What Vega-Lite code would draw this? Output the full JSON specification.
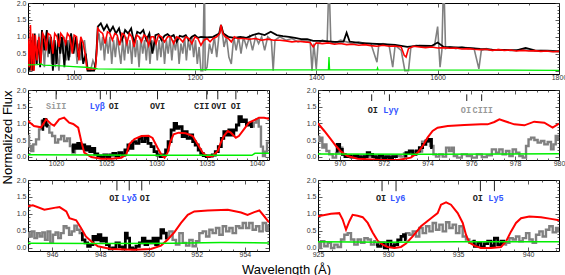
{
"$schema": "https://vega.github.io/schema/vega-lite/v6.json",
"background": "white",
"padding": {"left": 1, "top": -2, "right": 0, "bottom": 0},
"title": {"text": "Normalized Flux", "orient": "left", "anchor": "middle", "font": "Liberation Sans", "fontSize": 13, "fontWeight": "normal", "color": "#000", "offset": 1},
"config": {
 "view": {"stroke": "#000", "strokeWidth": 1},
 "axis": {"domain": false, "grid": false, "labelFont": "Liberation Sans", "labelFontSize": 7, "labelColor": "#333", "tickColor": "#333", "tickWidth": 0.8, "labelFlush": false, "labelOverlap": false},
 "axisX": {"labelPadding": 3},
 "axisY": {"labelPadding": 6}
},
"datasets": {
 "top": [
{"x":925,"y":0.9,"s":"g"},{"x":928,"y":0.1,"s":"g"},{"x":931,"y":1.0,"s":"g"},{"x":934,"y":0.0,"s":"g"},{"x":937,"y":0.8,"s":"g"},{"x":940,"y":0.2,"s":"g"},{"x":943,"y":1.1,"s":"g"},{"x":946,"y":0.3,"s":"g"},{"x":949,"y":0.9,"s":"g"},{"x":952,"y":0.1,"s":"g"},{"x":955,"y":1.0,"s":"g"},{"x":958,"y":0.4,"s":"g"},{"x":961,"y":1.0,"s":"g"},{"x":964,"y":0.2,"s":"g"},{"x":967,"y":0.9,"s":"g"},{"x":970,"y":0.1,"s":"g"},{"x":973,"y":0.6,"s":"g"},{"x":976,"y":0.0,"s":"g"},{"x":979,"y":0.9,"s":"g"},{"x":982,"y":0.5,"s":"g"},{"x":985,"y":1.0,"s":"g"},{"x":988,"y":0.3,"s":"g"},{"x":991,"y":0.9,"s":"g"},{"x":994,"y":0.4,"s":"g"},{"x":997,"y":1.0,"s":"g"},{"x":1000,"y":0.6,"s":"g"},{"x":1003,"y":0.9,"s":"g"},{"x":1006,"y":0.2,"s":"g"},{"x":1009,"y":0.8,"s":"g"},{"x":1012,"y":0.3,"s":"g"},{"x":1015,"y":0.7,"s":"g"},{"x":1018,"y":0.9,"s":"g"},{"x":1021,"y":0.4,"s":"g"},{"x":1024,"y":0.0,"s":"g"},{"x":1028,"y":0.0,"s":"g"},{"x":1032,"y":0.3,"s":"g"},{"x":1036,"y":0.1,"s":"g"},{"x":1039,"y":0.8,"s":"g"},{"x":1042,"y":1.1,"s":"g"},{"x":1045,"y":0.6,"s":"g"},{"x":1048,"y":1.0,"s":"g"},{"x":1051,"y":0.3,"s":"g"},{"x":1054,"y":1.0,"s":"g"},{"x":1057,"y":0.5,"s":"g"},{"x":1060,"y":1.0,"s":"g"},{"x":1063,"y":0.2,"s":"g"},{"x":1066,"y":0.9,"s":"g"},{"x":1069,"y":0.4,"s":"g"},{"x":1072,"y":1.0,"s":"g"},{"x":1075,"y":0.6,"s":"g"},{"x":1078,"y":0.2,"s":"g"},{"x":1081,"y":0.9,"s":"g"},{"x":1084,"y":0.3,"s":"g"},{"x":1087,"y":1.0,"s":"g"},{"x":1090,"y":0.5,"s":"g"},{"x":1093,"y":0.9,"s":"g"},{"x":1096,"y":0.2,"s":"g"},{"x":1099,"y":1.0,"s":"g"},{"x":1102,"y":0.4,"s":"g"},{"x":1105,"y":0.9,"s":"g"},{"x":1108,"y":0.1,"s":"g"},{"x":1111,"y":1.0,"s":"g"},{"x":1114,"y":0.5,"s":"g"},{"x":1117,"y":0.9,"s":"g"},{"x":1120,"y":0.3,"s":"g"},{"x":1123,"y":1.0,"s":"g"},{"x":1126,"y":0.2,"s":"g"},{"x":1129,"y":0.9,"s":"g"},{"x":1132,"y":0.6,"s":"g"},{"x":1135,"y":1.0,"s":"g"},{"x":1138,"y":0.3,"s":"g"},{"x":1141,"y":0.9,"s":"g"},{"x":1144,"y":0.4,"s":"g"},{"x":1147,"y":1.0,"s":"g"},{"x":1150,"y":0.2,"s":"g"},{"x":1153,"y":0.9,"s":"g"},{"x":1156,"y":0.5,"s":"g"},{"x":1159,"y":1.0,"s":"g"},{"x":1162,"y":0.3,"s":"g"},{"x":1165,"y":0.9,"s":"g"},{"x":1168,"y":0.6,"s":"g"},{"x":1171,"y":1.0,"s":"g"},{"x":1174,"y":0.2,"s":"g"},{"x":1177,"y":0.8,"s":"g"},{"x":1180,"y":0.5,"s":"g"},{"x":1183,"y":1.0,"s":"g"},{"x":1186,"y":0.3,"s":"g"},{"x":1189,"y":0.9,"s":"g"},{"x":1192,"y":0.6,"s":"g"},{"x":1195,"y":1.0,"s":"g"},{"x":1198,"y":0.4,"s":"g"},{"x":1201,"y":0.9,"s":"g"},{"x":1204,"y":0.2,"s":"g"},{"x":1207,"y":0.7,"s":"g"},{"x":1210,"y":0.0,"s":"g"},{"x":1213,"y":0.0,"s":"g"},{"x":1215,"y":2.1,"s":"g"},{"x":1216,"y":2.1,"s":"g"},{"x":1217,"y":0.0,"s":"g"},{"x":1220,"y":0.1,"s":"g"},{"x":1224,"y":0.8,"s":"g"},{"x":1228,"y":0.5,"s":"g"},{"x":1232,"y":1.0,"s":"g"},{"x":1236,"y":0.4,"s":"g"},{"x":1240,"y":1.1,"s":"g"},{"x":1244,"y":1.3,"s":"g"},{"x":1248,"y":0.7,"s":"g"},{"x":1252,"y":1.0,"s":"g"},{"x":1256,"y":0.4,"s":"g"},{"x":1260,"y":0.2,"s":"g"},{"x":1264,"y":1.0,"s":"g"},{"x":1268,"y":0.6,"s":"g"},{"x":1272,"y":1.0,"s":"g"},{"x":1276,"y":0.5,"s":"g"},{"x":1280,"y":1.0,"s":"g"},{"x":1285,"y":0.7,"s":"g"},{"x":1290,"y":1.0,"s":"g"},{"x":1295,"y":0.6,"s":"g"},{"x":1300,"y":1.0,"s":"g"},{"x":1305,"y":0.8,"s":"g"},{"x":1310,"y":1.0,"s":"g"},{"x":1315,"y":0.6,"s":"g"},{"x":1320,"y":1.0,"s":"g"},{"x":1326,"y":0.9,"s":"g"},{"x":1329,"y":0.0,"s":"g"},{"x":1332,"y":0.9,"s":"g"},{"x":1340,"y":1.0,"s":"g"},{"x":1350,"y":0.9,"s":"g"},{"x":1360,"y":0.95,"s":"g"},{"x":1370,"y":0.85,"s":"g"},{"x":1380,"y":0.9,"s":"g"},{"x":1390,"y":0.85,"s":"g"},{"x":1393,"y":0.0,"s":"g"},{"x":1396,"y":0.8,"s":"g"},{"x":1400,"y":0.05,"s":"g"},{"x":1403,"y":0.8,"s":"g"},{"x":1410,"y":0.9,"s":"g"},{"x":1418,"y":0.85,"s":"g"},{"x":1420,"y":2.1,"s":"g"},{"x":1422,"y":2.1,"s":"g"},{"x":1424,"y":0.85,"s":"g"},{"x":1430,"y":0.8,"s":"g"},{"x":1440,"y":0.9,"s":"g"},{"x":1450,"y":0.85,"s":"g"},{"x":1460,"y":0.8,"s":"g"},{"x":1470,"y":0.85,"s":"g"},{"x":1480,"y":0.8,"s":"g"},{"x":1490,"y":0.8,"s":"g"},{"x":1500,"y":0.25,"s":"g"},{"x":1503,"y":0.75,"s":"g"},{"x":1510,"y":0.8,"s":"g"},{"x":1520,"y":0.75,"s":"g"},{"x":1526,"y":0.1,"s":"g"},{"x":1530,"y":0.75,"s":"g"},{"x":1540,"y":0.6,"s":"g"},{"x":1546,"y":0.0,"s":"g"},{"x":1552,"y":0.0,"s":"g"},{"x":1556,"y":0.7,"s":"g"},{"x":1565,"y":0.75,"s":"g"},{"x":1575,"y":0.7,"s":"g"},{"x":1585,"y":0.7,"s":"g"},{"x":1595,"y":0.75,"s":"g"},{"x":1600,"y":1.3,"s":"g"},{"x":1604,"y":0.1,"s":"g"},{"x":1607,"y":0.6,"s":"g"},{"x":1609,"y":2.1,"s":"g"},{"x":1611,"y":2.1,"s":"g"},{"x":1613,"y":0.65,"s":"g"},{"x":1620,"y":0.7,"s":"g"},{"x":1630,"y":0.65,"s":"g"},{"x":1640,"y":0.7,"s":"g"},{"x":1650,"y":0.65,"s":"g"},{"x":1660,"y":0.65,"s":"g"},{"x":1668,"y":0.05,"s":"g"},{"x":1672,"y":0.6,"s":"g"},{"x":1680,"y":0.65,"s":"g"},{"x":1690,"y":0.6,"s":"g"},{"x":1700,"y":0.62,"s":"g"},{"x":1720,"y":0.6,"s":"g"},{"x":1740,"y":0.62,"s":"g"},{"x":1760,"y":0.58,"s":"g"},{"x":1780,"y":0.6,"s":"g"},{"x":1800,"y":0.57,"s":"g"},
{"x":925,"y":1.0,"s":"k"},{"x":928,"y":0.0,"s":"k"},{"x":930,"y":0.9,"s":"k"},{"x":933,"y":0.0,"s":"k"},{"x":936,"y":1.1,"s":"k"},{"x":939,"y":0.2,"s":"k"},{"x":942,"y":0.9,"s":"k"},{"x":945,"y":0.1,"s":"k"},{"x":948,"y":1.2,"s":"k"},{"x":952,"y":0.6,"s":"k"},{"x":956,"y":1.2,"s":"k"},{"x":960,"y":0.5,"s":"k"},{"x":963,"y":1.0,"s":"k"},{"x":966,"y":0.0,"s":"k"},{"x":969,"y":0.9,"s":"k"},{"x":972,"y":0.2,"s":"k"},{"x":975,"y":1.1,"s":"k"},{"x":978,"y":0.5,"s":"k"},{"x":981,"y":1.0,"s":"k"},{"x":985,"y":0.1,"s":"k"},{"x":988,"y":0.9,"s":"k"},{"x":992,"y":0.3,"s":"k"},{"x":996,"y":1.1,"s":"k"},{"x":1000,"y":0.5,"s":"k"},{"x":1004,"y":1.0,"s":"k"},{"x":1008,"y":0.4,"s":"k"},{"x":1012,"y":0.9,"s":"k"},{"x":1016,"y":0.2,"s":"k"},{"x":1020,"y":0.5,"s":"k"},{"x":1023,"y":0.0,"s":"k"},{"x":1034,"y":0.0,"s":"k"},{"x":1037,"y":0.3,"s":"k"},{"x":1040,"y":1.3,"s":"k"},{"x":1045,"y":1.4,"s":"k"},{"x":1050,"y":1.2,"s":"k"},{"x":1055,"y":1.35,"s":"k"},{"x":1060,"y":1.15,"s":"k"},{"x":1065,"y":1.3,"s":"k"},{"x":1070,"y":1.1,"s":"k"},{"x":1075,"y":1.25,"s":"k"},{"x":1080,"y":0.9,"s":"k"},{"x":1085,"y":1.2,"s":"k"},{"x":1090,"y":1.1,"s":"k"},{"x":1095,"y":1.25,"s":"k"},{"x":1100,"y":0.8,"s":"k"},{"x":1105,"y":1.15,"s":"k"},{"x":1110,"y":1.1,"s":"k"},{"x":1115,"y":1.2,"s":"k"},{"x":1120,"y":0.9,"s":"k"},{"x":1125,"y":1.1,"s":"k"},{"x":1130,"y":0.5,"s":"k"},{"x":1135,"y":1.05,"s":"k"},{"x":1140,"y":1.08,"s":"k"},{"x":1145,"y":0.9,"s":"k"},{"x":1150,"y":1.03,"s":"k"},{"x":1155,"y":1.08,"s":"k"},{"x":1160,"y":1.0,"s":"k"},{"x":1165,"y":1.05,"s":"k"},{"x":1170,"y":0.85,"s":"k"},{"x":1175,"y":1.03,"s":"k"},{"x":1180,"y":1.0,"s":"k"},{"x":1185,"y":1.05,"s":"k"},{"x":1190,"y":0.9,"s":"k"},{"x":1195,"y":1.0,"s":"k"},{"x":1200,"y":1.05,"s":"k"},{"x":1205,"y":0.97,"s":"k"},{"x":1210,"y":1.0,"s":"k"},{"x":1220,"y":0.98,"s":"k"},{"x":1230,"y":1.0,"s":"k"},{"x":1240,"y":1.1,"s":"k"},{"x":1243,"y":1.35,"s":"k"},{"x":1247,"y":1.1,"s":"k"},{"x":1255,"y":1.0,"s":"k"},{"x":1265,"y":0.97,"s":"k"},{"x":1275,"y":1.0,"s":"k"},{"x":1285,"y":0.97,"s":"k"},{"x":1295,"y":1.05,"s":"k"},{"x":1305,"y":1.1,"s":"k"},{"x":1315,"y":1.05,"s":"k"},{"x":1325,"y":1.15,"s":"k"},{"x":1335,"y":1.05,"s":"k"},{"x":1345,"y":1.02,"s":"k"},{"x":1355,"y":1.0,"s":"k"},{"x":1365,"y":0.97,"s":"k"},{"x":1375,"y":0.93,"s":"k"},{"x":1385,"y":0.93,"s":"k"},{"x":1395,"y":0.88,"s":"k"},{"x":1405,"y":0.88,"s":"k"},{"x":1415,"y":0.87,"s":"k"},{"x":1430,"y":0.85,"s":"k"},{"x":1445,"y":0.86,"s":"k"},{"x":1450,"y":1.12,"s":"k"},{"x":1455,"y":0.86,"s":"k"},{"x":1470,"y":0.82,"s":"k"},{"x":1490,"y":0.8,"s":"k"},{"x":1510,"y":0.78,"s":"k"},{"x":1530,"y":0.76,"s":"k"},{"x":1550,"y":0.7,"s":"k"},{"x":1570,"y":0.74,"s":"k"},{"x":1590,"y":0.73,"s":"k"},{"x":1600,"y":0.83,"s":"k"},{"x":1610,"y":0.7,"s":"k"},{"x":1630,"y":0.69,"s":"k"},{"x":1650,"y":0.67,"s":"k"},{"x":1670,"y":0.64,"s":"k"},{"x":1690,"y":0.62,"s":"k"},{"x":1710,"y":0.61,"s":"k"},{"x":1730,"y":0.6,"s":"k"},{"x":1745,"y":0.67,"s":"k"},{"x":1760,"y":0.6,"s":"k"},{"x":1780,"y":0.58,"s":"k"},{"x":1800,"y":0.57,"s":"k"},
{"x":925,"y":0.95,"s":"r"},{"x":927,"y":0.1,"s":"r"},{"x":929,"y":1.35,"s":"r"},{"x":931,"y":0.0,"s":"r"},{"x":933,"y":1.1,"s":"r"},{"x":935,"y":0.0,"s":"r"},{"x":937,"y":1.05,"s":"r"},{"x":940,"y":0.3,"s":"r"},{"x":943,"y":1.0,"s":"r"},{"x":946,"y":0.2,"s":"r"},{"x":949,"y":1.1,"s":"r"},{"x":952,"y":1.0,"s":"r"},{"x":955,"y":0.6,"s":"r"},{"x":958,"y":1.1,"s":"r"},{"x":962,"y":1.05,"s":"r"},{"x":966,"y":0.5,"s":"r"},{"x":969,"y":1.1,"s":"r"},{"x":973,"y":1.0,"s":"r"},{"x":976,"y":0.7,"s":"r"},{"x":979,"y":1.1,"s":"r"},{"x":983,"y":1.0,"s":"r"},{"x":987,"y":0.8,"s":"r"},{"x":990,"y":1.1,"s":"r"},{"x":994,"y":1.0,"s":"r"},{"x":998,"y":0.5,"s":"r"},{"x":1001,"y":1.05,"s":"r"},{"x":1005,"y":1.0,"s":"r"},{"x":1009,"y":0.3,"s":"r"},{"x":1012,"y":1.0,"s":"r"},{"x":1016,"y":0.8,"s":"r"},{"x":1020,"y":0.4,"s":"r"},{"x":1022,"y":0.05,"s":"r"},{"x":1036,"y":0.05,"s":"r"},{"x":1038,"y":0.5,"s":"r"},{"x":1040,"y":1.25,"s":"r"},{"x":1044,"y":1.15,"s":"r"},{"x":1048,"y":1.1,"s":"r"},{"x":1052,"y":0.8,"s":"r"},{"x":1056,"y":1.15,"s":"r"},{"x":1060,"y":1.1,"s":"r"},{"x":1064,"y":0.9,"s":"r"},{"x":1068,"y":1.1,"s":"r"},{"x":1072,"y":1.05,"s":"r"},{"x":1076,"y":0.75,"s":"r"},{"x":1080,"y":1.1,"s":"r"},{"x":1084,"y":1.05,"s":"r"},{"x":1088,"y":0.8,"s":"r"},{"x":1092,"y":1.1,"s":"r"},{"x":1096,"y":1.0,"s":"r"},{"x":1100,"y":0.7,"s":"r"},{"x":1104,"y":1.05,"s":"r"},{"x":1108,"y":1.0,"s":"r"},{"x":1112,"y":0.85,"s":"r"},{"x":1116,"y":1.05,"s":"r"},{"x":1120,"y":1.0,"s":"r"},{"x":1124,"y":0.75,"s":"r"},{"x":1128,"y":1.0,"s":"r"},{"x":1132,"y":1.0,"s":"r"},{"x":1136,"y":0.8,"s":"r"},{"x":1140,"y":1.05,"s":"r"},{"x":1145,"y":1.0,"s":"r"},{"x":1150,"y":0.85,"s":"r"},{"x":1155,"y":1.0,"s":"r"},{"x":1160,"y":1.0,"s":"r"},{"x":1165,"y":0.8,"s":"r"},{"x":1170,"y":1.0,"s":"r"},{"x":1175,"y":0.95,"s":"r"},{"x":1180,"y":0.85,"s":"r"},{"x":1185,"y":1.0,"s":"r"},{"x":1190,"y":0.95,"s":"r"},{"x":1195,"y":0.8,"s":"r"},{"x":1200,"y":1.0,"s":"r"},{"x":1205,"y":0.95,"s":"r"},{"x":1210,"y":0.75,"s":"r"},{"x":1215,"y":0.9,"s":"r"},{"x":1220,"y":0.95,"s":"r"},{"x":1225,"y":0.85,"s":"r"},{"x":1230,"y":0.95,"s":"r"},{"x":1236,"y":1.0,"s":"r"},{"x":1241,"y":1.1,"s":"r"},{"x":1243,"y":1.35,"s":"r"},{"x":1246,"y":1.1,"s":"r"},{"x":1250,"y":1.0,"s":"r"},{"x":1255,"y":0.95,"s":"r"},{"x":1260,"y":0.85,"s":"r"},{"x":1265,"y":1.0,"s":"r"},{"x":1270,"y":0.95,"s":"r"},{"x":1280,"y":0.95,"s":"r"},{"x":1290,"y":0.93,"s":"r"},{"x":1300,"y":0.95,"s":"r"},{"x":1310,"y":0.9,"s":"r"},{"x":1320,"y":0.93,"s":"r"},{"x":1330,"y":0.9,"s":"r"},{"x":1340,"y":0.9,"s":"r"},{"x":1350,"y":0.88,"s":"r"},{"x":1360,"y":0.85,"s":"r"},{"x":1370,"y":0.87,"s":"r"},{"x":1380,"y":0.85,"s":"r"},{"x":1390,"y":0.83,"s":"r"},{"x":1395,"y":0.7,"s":"r"},{"x":1400,"y":0.82,"s":"r"},{"x":1410,"y":0.8,"s":"r"},{"x":1420,"y":0.82,"s":"r"},{"x":1430,"y":0.78,"s":"r"},{"x":1440,"y":0.8,"s":"r"},{"x":1450,"y":0.77,"s":"r"},{"x":1460,"y":0.78,"s":"r"},{"x":1470,"y":0.75,"s":"r"},{"x":1480,"y":0.77,"s":"r"},{"x":1490,"y":0.74,"s":"r"},{"x":1500,"y":0.72,"s":"r"},{"x":1510,"y":0.75,"s":"r"},{"x":1520,"y":0.72,"s":"r"},{"x":1530,"y":0.73,"s":"r"},{"x":1540,"y":0.7,"s":"r"},{"x":1545,"y":0.45,"s":"r"},{"x":1548,"y":0.4,"s":"r"},{"x":1552,"y":0.65,"s":"r"},{"x":1560,"y":0.72,"s":"r"},{"x":1570,"y":0.7,"s":"r"},{"x":1580,"y":0.68,"s":"r"},{"x":1590,"y":0.7,"s":"r"},{"x":1600,"y":0.67,"s":"r"},{"x":1610,"y":0.68,"s":"r"},{"x":1620,"y":0.66,"s":"r"},{"x":1630,"y":0.67,"s":"r"},{"x":1640,"y":0.64,"s":"r"},{"x":1650,"y":0.65,"s":"r"},{"x":1660,"y":0.63,"s":"r"},{"x":1670,"y":0.62,"s":"r"},{"x":1680,"y":0.63,"s":"r"},{"x":1690,"y":0.6,"s":"r"},{"x":1700,"y":0.62,"s":"r"},{"x":1710,"y":0.6,"s":"r"},{"x":1720,"y":0.61,"s":"r"},{"x":1730,"y":0.58,"s":"r"},{"x":1740,"y":0.6,"s":"r"},{"x":1750,"y":0.58,"s":"r"},{"x":1760,"y":0.59,"s":"r"},{"x":1770,"y":0.57,"s":"r"},{"x":1780,"y":0.58,"s":"r"},{"x":1790,"y":0.56,"s":"r"},{"x":1800,"y":0.57,"s":"r"},
{"x":925,"y":0.17,"s":"e"},{"x":940,"y":0.18,"s":"e"},{"x":947,"y":0.2,"s":"e"},{"x":950,"y":0.16,"s":"e"},{"x":980,"y":0.14,"s":"e"},{"x":1000,"y":0.12,"s":"e"},{"x":1020,"y":0.1,"s":"e"},{"x":1030,"y":0.08,"s":"e"},{"x":1040,"y":0.05,"s":"e"},{"x":1100,"y":0.04,"s":"e"},{"x":1200,"y":0.03,"s":"e"},{"x":1300,"y":0.02,"s":"e"},{"x":1420,"y":0.02,"s":"e"},{"x":1421,"y":0.4,"s":"e"},{"x":1422,"y":0.02,"s":"e"},{"x":1500,"y":0.02,"s":"e"},{"x":1501,"y":0.08,"s":"e"},{"x":1502,"y":0.02,"s":"e"},{"x":1800,"y":0.01,"s":"e"}
 ],
 "ml": [
{"x":1017.2,"y":0.62,"s":"g","g":1},{"x":1017.4,"y":0.32,"s":"g","g":1},{"x":1017.6,"y":0.17,"s":"g","g":1},{"x":1017.85,"y":0.37,"s":"g","g":1},{"x":1018.15,"y":0.52,"s":"g","g":1},{"x":1018.45,"y":0.82,"s":"g","g":1},{"x":1018.7,"y":1.07,"s":"g","g":1},{"x":1018.95,"y":1.1,"s":"g","g":1},{"x":1019.2,"y":0.92,"s":"g","g":1},{"x":1019.45,"y":0.72,"s":"g","g":1},{"x":1019.75,"y":0.62,"s":"g","g":1},{"x":1020.05,"y":0.42,"s":"g","g":1},{"x":1020.35,"y":0.52,"s":"g","g":1},{"x":1020.65,"y":0.62,"s":"g","g":1},{"x":1020.95,"y":0.47,"s":"g","g":1},{"x":1021.25,"y":0.55,"s":"g","g":1},{"x":1021.5,"y":0.32,"s":"g","g":1},{"x":1021.75,"y":0.12,"s":"g","g":1},{"x":1022.0,"y":0.22,"s":"g","g":1},
{"x":1039.55,"y":0.9,"s":"g","g":2},{"x":1039.8,"y":1.02,"s":"g","g":2},{"x":1040.05,"y":1.12,"s":"g","g":2},{"x":1040.3,"y":0.9,"s":"g","g":2},{"x":1040.5,"y":0.3,"s":"g","g":2},{"x":1040.7,"y":0.02,"s":"g","g":2},{"x":1040.9,"y":0.15,"s":"g","g":2},{"x":1041.1,"y":0.42,"s":"g","g":2},{"x":1041.2,"y":0.42,"s":"g","g":2},
{"x":1018.6,"y":0.82,"s":"k","g":1},{"x":1018.75,"y":1.07,"s":"k","g":1},{"x":1018.9,"y":1.12,"s":"k","g":1},{"x":1019.05,"y":0.95,"s":"k","g":1},{"x":1019.2,"y":0.92,"s":"k","g":1},
{"x":1021.6,"y":0.15,"s":"k","g":2},{"x":1021.8,"y":0.35,"s":"k","g":2},{"x":1022.0,"y":0.25,"s":"k","g":2},{"x":1022.3,"y":0.4,"s":"k","g":2},{"x":1022.5,"y":0.25,"s":"k","g":2},{"x":1022.7,"y":0.35,"s":"k","g":2},{"x":1023.0,"y":0.2,"s":"k","g":2},{"x":1023.2,"y":0.3,"s":"k","g":2},{"x":1023.5,"y":0.15,"s":"k","g":2},{"x":1023.7,"y":0.25,"s":"k","g":2},{"x":1024.0,"y":0.08,"s":"k","g":2},{"x":1024.3,"y":0.02,"s":"k","g":2},{"x":1024.6,"y":-0.02,"s":"k","g":2},{"x":1024.9,"y":0.05,"s":"k","g":2},{"x":1025.2,"y":0.0,"s":"k","g":2},{"x":1025.5,"y":0.05,"s":"k","g":2},{"x":1025.8,"y":0.1,"s":"k","g":2},{"x":1026.1,"y":0.02,"s":"k","g":2},{"x":1026.4,"y":0.12,"s":"k","g":2},{"x":1026.7,"y":0.05,"s":"k","g":2},{"x":1027.0,"y":0.2,"s":"k","g":2},{"x":1027.3,"y":0.35,"s":"k","g":2},{"x":1027.5,"y":0.25,"s":"k","g":2},{"x":1027.8,"y":0.45,"s":"k","g":2},{"x":1028.1,"y":0.4,"s":"k","g":2},{"x":1028.4,"y":0.55,"s":"k","g":2},{"x":1028.7,"y":0.45,"s":"k","g":2},{"x":1029.0,"y":0.55,"s":"k","g":2},{"x":1029.3,"y":0.4,"s":"k","g":2},{"x":1029.6,"y":0.3,"s":"k","g":2},{"x":1029.9,"y":0.15,"s":"k","g":2},{"x":1030.2,"y":0.05,"s":"k","g":2},{"x":1030.5,"y":0.0,"s":"k","g":2},{"x":1030.8,"y":0.05,"s":"k","g":2},{"x":1031.0,"y":0.2,"s":"k","g":2},{"x":1031.3,"y":0.45,"s":"k","g":2},{"x":1031.6,"y":0.8,"s":"k","g":2},{"x":1031.9,"y":1.0,"s":"k","g":2},{"x":1032.1,"y":0.85,"s":"k","g":2},{"x":1032.4,"y":0.9,"s":"k","g":2},{"x":1032.7,"y":0.6,"s":"k","g":2},{"x":1032.9,"y":0.75,"s":"k","g":2},{"x":1033.2,"y":0.55,"s":"k","g":2},{"x":1033.5,"y":0.65,"s":"k","g":2},{"x":1033.7,"y":0.45,"s":"k","g":2},{"x":1034.0,"y":0.35,"s":"k","g":2},{"x":1034.3,"y":0.2,"s":"k","g":2},{"x":1034.5,"y":0.1,"s":"k","g":2},{"x":1034.8,"y":0.03,"s":"k","g":2},{"x":1035.1,"y":0.0,"s":"k","g":2},{"x":1035.4,"y":0.02,"s":"k","g":2},{"x":1035.7,"y":0.05,"s":"k","g":2},{"x":1036.0,"y":0.15,"s":"k","g":2},{"x":1036.3,"y":0.3,"s":"k","g":2},{"x":1036.6,"y":0.55,"s":"k","g":2},{"x":1036.8,"y":0.75,"s":"k","g":2},{"x":1037.1,"y":0.65,"s":"k","g":2},{"x":1037.3,"y":0.8,"s":"k","g":2},{"x":1037.6,"y":0.65,"s":"k","g":2},{"x":1037.8,"y":0.8,"s":"k","g":2},{"x":1038.1,"y":0.95,"s":"k","g":2},{"x":1038.3,"y":1.2,"s":"k","g":2},{"x":1038.6,"y":1.05,"s":"k","g":2},{"x":1038.8,"y":1.1,"s":"k","g":2},{"x":1039.1,"y":0.95,"s":"k","g":2},{"x":1039.3,"y":1.0,"s":"k","g":2},{"x":1039.6,"y":0.9,"s":"k","g":2},
{"x":1017.2,"y":1.07,"s":"r"},{"x":1017.8,"y":0.92,"s":"r"},{"x":1018.5,"y":0.88,"s":"r"},{"x":1018.8,"y":1.02,"s":"r"},{"x":1019.0,"y":1.12,"s":"r"},{"x":1019.5,"y":0.98,"s":"r"},{"x":1019.8,"y":0.93,"s":"r"},{"x":1020.3,"y":1.12,"s":"r"},{"x":1020.8,"y":1.17,"s":"r"},{"x":1021.3,"y":1.02,"s":"r"},{"x":1021.7,"y":0.98,"s":"r"},{"x":1022.2,"y":0.87,"s":"r"},{"x":1022.5,"y":0.47,"s":"r"},{"x":1022.8,"y":0.12,"s":"r"},{"x":1023.5,"y":-0.01,"s":"r"},{"x":1024.5,"y":-0.06,"s":"r"},{"x":1025.5,"y":-0.06,"s":"r"},{"x":1026.5,"y":-0.03,"s":"r"},{"x":1027.0,"y":0.07,"s":"r"},{"x":1027.3,"y":0.38,"s":"r"},{"x":1027.8,"y":0.53,"s":"r"},{"x":1028.5,"y":0.62,"s":"r"},{"x":1029.2,"y":0.63,"s":"r"},{"x":1029.6,"y":0.56,"s":"r"},{"x":1030.1,"y":0.27,"s":"r"},{"x":1030.5,"y":0.05,"s":"r"},{"x":1030.8,"y":-0.03,"s":"r"},{"x":1031.1,"y":0.12,"s":"r"},{"x":1031.4,"y":0.47,"s":"r"},{"x":1031.7,"y":0.67,"s":"r"},{"x":1032.2,"y":0.72,"s":"r"},{"x":1032.9,"y":0.7,"s":"r"},{"x":1033.6,"y":0.62,"s":"r"},{"x":1034.1,"y":0.37,"s":"r"},{"x":1034.6,"y":0.12,"s":"r"},{"x":1035.1,"y":0.0,"s":"r"},{"x":1035.6,"y":0.02,"s":"r"},{"x":1036.1,"y":0.17,"s":"r"},{"x":1036.4,"y":0.42,"s":"r"},{"x":1036.7,"y":0.62,"s":"r"},{"x":1037.1,"y":0.77,"s":"r"},{"x":1037.4,"y":0.72,"s":"r"},{"x":1037.9,"y":0.57,"s":"r"},{"x":1038.2,"y":0.62,"s":"r"},{"x":1038.7,"y":0.82,"s":"r"},{"x":1039.2,"y":1.02,"s":"r"},{"x":1039.9,"y":1.12,"s":"r"},{"x":1040.2,"y":1.17,"s":"r"},{"x":1040.7,"y":1.17,"s":"r"},{"x":1041.2,"y":1.14,"s":"r"},
{"x":1017.2,"y":0.06,"s":"e"},{"x":1030,"y":0.04,"s":"e"},{"x":1039.5,"y":0.04,"s":"e"},{"x":1039.8,"y":0.1,"s":"e"},{"x":1041.2,"y":0.1,"s":"e"}
 ],
 "mr": [
{"x":969.0,"y":0.6,"s":"g"},{"x":969.1,"y":0.47,"s":"g"},{"x":969.15,"y":0.57,"s":"g"},{"x":969.25,"y":0.27,"s":"g"},{"x":969.33,"y":0.37,"s":"g"},{"x":969.44,"y":0.17,"s":"g"},{"x":969.59,"y":0.07,"s":"g"},{"x":969.75,"y":-0.03,"s":"g"},{"x":969.9,"y":0.12,"s":"g"},{"x":970.02,"y":0.27,"s":"g"},{"x":970.2,"y":0.07,"s":"g"},{"x":970.35,"y":0.02,"s":"g"},{"x":970.5,"y":0.0,"s":"g"},{"x":971.0,"y":0.02,"s":"g"},{"x":971.5,"y":0.0,"s":"g"},{"x":972.0,"y":0.02,"s":"g"},{"x":972.5,"y":0.0,"s":"g"},{"x":972.7,"y":0.02,"s":"g"},{"x":972.85,"y":0.0,"s":"g"},{"x":973.0,"y":0.1,"s":"g"},{"x":973.5,"y":0.15,"s":"g"},{"x":974.0,"y":0.45,"s":"g"},{"x":974.23,"y":0.32,"s":"g"},{"x":974.31,"y":0.07,"s":"g"},{"x":974.46,"y":0.0,"s":"g"},{"x":974.61,"y":0.07,"s":"g"},{"x":974.77,"y":0.0,"s":"g"},{"x":974.92,"y":0.27,"s":"g"},{"x":975.04,"y":0.17,"s":"g"},{"x":975.15,"y":0.27,"s":"g"},{"x":975.25,"y":0.02,"s":"g"},{"x":975.45,"y":-0.03,"s":"g"},{"x":975.68,"y":0.07,"s":"g"},{"x":975.91,"y":0.02,"s":"g"},{"x":976.14,"y":-0.03,"s":"g"},{"x":976.36,"y":0.07,"s":"g"},{"x":976.59,"y":-0.01,"s":"g"},{"x":976.82,"y":0.04,"s":"g"},{"x":977.05,"y":0.22,"s":"g"},{"x":977.2,"y":0.12,"s":"g"},{"x":977.35,"y":0.22,"s":"g"},{"x":977.5,"y":0.07,"s":"g"},{"x":977.66,"y":0.17,"s":"g"},{"x":977.81,"y":0.02,"s":"g"},{"x":977.96,"y":0.22,"s":"g"},{"x":978.11,"y":0.12,"s":"g"},{"x":978.27,"y":0.02,"s":"g"},{"x":978.42,"y":-0.03,"s":"g"},{"x":978.57,"y":0.32,"s":"g"},{"x":978.65,"y":0.52,"s":"g"},{"x":978.8,"y":0.57,"s":"g"},{"x":978.95,"y":0.5,"s":"g"},{"x":979.1,"y":0.42,"s":"g"},{"x":979.25,"y":0.47,"s":"g"},{"x":979.41,"y":0.37,"s":"g"},{"x":979.56,"y":0.44,"s":"g"},{"x":979.71,"y":0.22,"s":"g"},{"x":979.79,"y":0.37,"s":"g"},{"x":979.91,"y":0.62,"s":"g"},{"x":980.0,"y":0.52,"s":"g"},
{"x":969.82,"y":0.17,"s":"k","g":1},{"x":969.93,"y":0.37,"s":"k","g":1},{"x":970.05,"y":0.22,"s":"k","g":1},{"x":970.17,"y":0.07,"s":"k","g":1},{"x":970.29,"y":0.0,"s":"k","g":1},{"x":970.43,"y":0.02,"s":"k","g":1},{"x":970.58,"y":-0.01,"s":"k","g":1},{"x":970.73,"y":0.02,"s":"k","g":1},{"x":970.89,"y":-0.01,"s":"k","g":1},{"x":971.04,"y":-0.03,"s":"k","g":1},{"x":971.19,"y":0.0,"s":"k","g":1},{"x":971.3,"y":0.12,"s":"k","g":1},{"x":971.42,"y":0.07,"s":"k","g":1},{"x":971.57,"y":0.0,"s":"k","g":1},{"x":971.72,"y":-0.03,"s":"k","g":1},{"x":971.88,"y":0.02,"s":"k","g":1},{"x":972.03,"y":-0.03,"s":"k","g":1},{"x":972.18,"y":-0.01,"s":"k","g":1},{"x":972.33,"y":-0.03,"s":"k","g":1},{"x":972.48,"y":0.0,"s":"k","g":1},{"x":972.64,"y":0.0,"s":"k","g":1},
{"x":972.94,"y":0.02,"s":"k","g":2},{"x":973.09,"y":0.12,"s":"k","g":2},{"x":973.24,"y":0.17,"s":"k","g":2},{"x":973.4,"y":0.07,"s":"k","g":2},{"x":973.55,"y":0.17,"s":"k","g":2},{"x":973.7,"y":0.27,"s":"k","g":2},{"x":973.85,"y":0.37,"s":"k","g":2},{"x":974.0,"y":0.47,"s":"k","g":2},{"x":974.13,"y":0.52,"s":"k","g":2},{"x":974.23,"y":0.27,"s":"k","g":2},
{"x":969.0,"y":1.0,"s":"r"},{"x":969.29,"y":0.77,"s":"r"},{"x":969.59,"y":0.52,"s":"r"},{"x":969.82,"y":0.32,"s":"r"},{"x":970.05,"y":0.15,"s":"r"},{"x":970.35,"y":0.02,"s":"r"},{"x":970.81,"y":-0.06,"s":"r"},{"x":971.88,"y":-0.1,"s":"r"},{"x":972.64,"y":-0.1,"s":"r"},{"x":973.24,"y":-0.03,"s":"r"},{"x":973.55,"y":0.12,"s":"r"},{"x":973.78,"y":0.32,"s":"r"},{"x":974.0,"y":0.57,"s":"r"},{"x":974.23,"y":0.77,"s":"r"},{"x":974.46,"y":0.87,"s":"r"},{"x":974.92,"y":0.92,"s":"r"},{"x":975.68,"y":0.95,"s":"r"},{"x":976.44,"y":0.97,"s":"r"},{"x":976.74,"y":0.97,"s":"r"},{"x":977.05,"y":1.04,"s":"r"},{"x":977.28,"y":1.12,"s":"r"},{"x":977.5,"y":1.07,"s":"r"},{"x":977.96,"y":0.97,"s":"r"},{"x":978.42,"y":0.94,"s":"r"},{"x":978.87,"y":1.05,"s":"r"},{"x":979.33,"y":1.02,"s":"r"},{"x":979.71,"y":0.87,"s":"r"},{"x":980.0,"y":0.99,"s":"r"},
{"x":969.0,"y":0.08,"s":"e"},{"x":974.0,"y":0.07,"s":"e"},{"x":980.0,"y":0.09,"s":"e"}
 ],
 "bl": [
{"x":945.0,"y":0.43,"s":"g","g":1},{"x":945.1,"y":0.33,"s":"g","g":1},{"x":945.21,"y":0.48,"s":"g","g":1},{"x":945.32,"y":0.28,"s":"g","g":1},{"x":945.43,"y":0.43,"s":"g","g":1},{"x":945.54,"y":0.33,"s":"g","g":1},{"x":945.65,"y":0.45,"s":"g","g":1},{"x":945.76,"y":0.23,"s":"g","g":1},{"x":945.87,"y":0.48,"s":"g","g":1},{"x":945.98,"y":0.14,"s":"g","g":1},{"x":946.09,"y":0.38,"s":"g","g":1},{"x":946.2,"y":0.45,"s":"g","g":1},{"x":946.31,"y":0.28,"s":"g","g":1},{"x":946.42,"y":0.43,"s":"g","g":1},{"x":946.54,"y":0.63,"s":"g","g":1},{"x":946.65,"y":0.58,"s":"g","g":1},{"x":946.76,"y":0.38,"s":"g","g":1},{"x":946.87,"y":0.48,"s":"g","g":1},{"x":946.98,"y":0.65,"s":"g","g":1},{"x":947.09,"y":0.53,"s":"g","g":1},{"x":947.2,"y":0.43,"s":"g","g":1},
{"x":950.8,"y":0.33,"s":"g","g":2},{"x":950.93,"y":0.48,"s":"g","g":2},{"x":951.07,"y":0.23,"s":"g","g":2},{"x":951.21,"y":0.09,"s":"g","g":2},{"x":951.35,"y":0.43,"s":"g","g":2},{"x":951.49,"y":0.14,"s":"g","g":2},{"x":951.63,"y":0.06,"s":"g","g":2},{"x":951.76,"y":0.23,"s":"g","g":2},{"x":951.9,"y":0.04,"s":"g","g":2},{"x":952.04,"y":0.19,"s":"g","g":2},{"x":952.18,"y":0.43,"s":"g","g":2},{"x":952.32,"y":0.48,"s":"g","g":2},{"x":952.46,"y":0.33,"s":"g","g":2},{"x":952.59,"y":0.53,"s":"g","g":2},{"x":952.73,"y":0.43,"s":"g","g":2},{"x":952.87,"y":0.58,"s":"g","g":2},{"x":953.01,"y":0.38,"s":"g","g":2},{"x":953.15,"y":0.63,"s":"g","g":2},{"x":953.29,"y":0.48,"s":"g","g":2},{"x":953.42,"y":0.58,"s":"g","g":2},{"x":953.56,"y":0.43,"s":"g","g":2},{"x":953.7,"y":0.63,"s":"g","g":2},{"x":953.84,"y":0.58,"s":"g","g":2},{"x":953.98,"y":0.73,"s":"g","g":2},{"x":954.11,"y":0.58,"s":"g","g":2},{"x":954.25,"y":0.73,"s":"g","g":2},{"x":954.39,"y":0.53,"s":"g","g":2},{"x":954.53,"y":0.63,"s":"g","g":2},{"x":954.67,"y":0.48,"s":"g","g":2},{"x":954.81,"y":0.73,"s":"g","g":2},{"x":954.94,"y":0.53,"s":"g","g":2},{"x":955.0,"y":0.63,"s":"g","g":2},
{"x":947.2,"y":0.43,"s":"k","g":1},{"x":947.31,"y":0.23,"s":"k","g":1},{"x":947.42,"y":0.14,"s":"k","g":1},{"x":947.53,"y":0.04,"s":"k","g":1},{"x":947.64,"y":0.09,"s":"k","g":1},{"x":947.75,"y":0.33,"s":"k","g":1},{"x":947.86,"y":0.23,"s":"k","g":1},{"x":947.97,"y":0.38,"s":"k","g":1},{"x":948.08,"y":0.19,"s":"k","g":1},{"x":948.2,"y":0.28,"s":"k","g":1},{"x":948.31,"y":0.09,"s":"k","g":1},{"x":948.44,"y":-0.04,"s":"k","g":1},{"x":948.58,"y":-0.01,"s":"k","g":1},{"x":948.72,"y":0.14,"s":"k","g":1},{"x":948.86,"y":0.02,"s":"k","g":1},{"x":949.0,"y":-0.04,"s":"k","g":1},{"x":949.08,"y":0.43,"s":"k","g":1},{"x":949.16,"y":0.28,"s":"k","g":1},{"x":949.27,"y":-0.01,"s":"k","g":1},{"x":949.41,"y":-0.04,"s":"k","g":1},{"x":949.55,"y":0.04,"s":"k","g":1},{"x":949.69,"y":0.14,"s":"k","g":1},{"x":949.8,"y":0.28,"s":"k","g":1},{"x":949.91,"y":0.09,"s":"k","g":1},{"x":950.02,"y":0.19,"s":"k","g":1},{"x":950.13,"y":0.14,"s":"k","g":1},{"x":950.24,"y":0.28,"s":"k","g":1},{"x":950.35,"y":0.09,"s":"k","g":1},{"x":950.46,"y":0.28,"s":"k","g":1},{"x":950.57,"y":0.53,"s":"k","g":1},{"x":950.68,"y":0.43,"s":"k","g":1},{"x":950.8,"y":0.28,"s":"k","g":1},
{"x":945.0,"y":1.22,"s":"r"},{"x":945.2,"y":1.25,"s":"r"},{"x":945.68,"y":1.12,"s":"r"},{"x":946.2,"y":1.19,"s":"r"},{"x":946.31,"y":1.2,"s":"r"},{"x":946.59,"y":1.07,"s":"r"},{"x":946.72,"y":0.87,"s":"r"},{"x":947.0,"y":0.81,"s":"r"},{"x":947.2,"y":0.58,"s":"r"},{"x":947.4,"y":0.33,"s":"r"},{"x":947.62,"y":0.19,"s":"r"},{"x":947.9,"y":0.04,"s":"r"},{"x":948.44,"y":-0.04,"s":"r"},{"x":949.41,"y":-0.06,"s":"r"},{"x":950.1,"y":-0.04,"s":"r"},{"x":950.52,"y":0.06,"s":"r"},{"x":950.8,"y":0.24,"s":"r"},{"x":951.07,"y":0.45,"s":"r"},{"x":951.35,"y":0.73,"s":"r"},{"x":951.63,"y":0.97,"s":"r"},{"x":951.9,"y":1.07,"s":"r"},{"x":952.46,"y":1.1,"s":"r"},{"x":953.29,"y":1.12,"s":"r"},{"x":953.84,"y":1.04,"s":"r"},{"x":954.11,"y":0.97,"s":"r"},{"x":954.39,"y":1.05,"s":"r"},{"x":954.6,"y":1.1,"s":"r"},{"x":954.81,"y":0.92,"s":"r"},{"x":955.0,"y":0.75,"s":"r"},
{"x":945.0,"y":0.13,"s":"e"},{"x":948.0,"y":0.12,"s":"e"},{"x":951.0,"y":0.13,"s":"e"},{"x":953.0,"y":0.15,"s":"e"},{"x":955.0,"y":0.14,"s":"e"}
 ],
 "br": [
{"x":925.0,"y":0.14,"s":"g","g":1},{"x":925.1,"y":-0.01,"s":"g","g":1},{"x":925.33,"y":0.19,"s":"g","g":1},{"x":925.57,"y":0.04,"s":"g","g":1},{"x":925.81,"y":0.14,"s":"g","g":1},{"x":926.05,"y":-0.01,"s":"g","g":1},{"x":926.28,"y":0.09,"s":"g","g":1},{"x":926.52,"y":0.02,"s":"g","g":1},{"x":926.76,"y":0.24,"s":"g","g":1},{"x":927.0,"y":0.38,"s":"g","g":1},{"x":927.24,"y":0.43,"s":"g","g":1},{"x":927.47,"y":0.24,"s":"g","g":1},{"x":927.71,"y":0.09,"s":"g","g":1},{"x":927.95,"y":0.24,"s":"g","g":1},{"x":928.19,"y":0.14,"s":"g","g":1},{"x":928.43,"y":0.28,"s":"g","g":1},{"x":928.66,"y":0.24,"s":"g","g":1},{"x":928.9,"y":0.09,"s":"g","g":1},{"x":929.14,"y":0.19,"s":"g","g":1},
{"x":931.16,"y":0.24,"s":"g","g":2},{"x":931.4,"y":0.43,"s":"g","g":2},{"x":931.64,"y":0.38,"s":"g","g":2},{"x":931.88,"y":0.48,"s":"g","g":2},{"x":932.11,"y":0.33,"s":"g","g":2},{"x":932.35,"y":0.58,"s":"g","g":2},{"x":932.59,"y":0.43,"s":"g","g":2},{"x":932.83,"y":0.63,"s":"g","g":2},{"x":933.07,"y":0.48,"s":"g","g":2},{"x":933.3,"y":0.73,"s":"g","g":2},{"x":933.54,"y":0.53,"s":"g","g":2},{"x":933.78,"y":0.68,"s":"g","g":2},{"x":934.02,"y":0.48,"s":"g","g":2},{"x":934.26,"y":0.75,"s":"g","g":2},{"x":934.49,"y":0.58,"s":"g","g":2},{"x":934.73,"y":0.68,"s":"g","g":2},{"x":934.97,"y":0.43,"s":"g","g":2},{"x":935.21,"y":0.63,"s":"g","g":2},{"x":935.44,"y":0.33,"s":"g","g":2},{"x":935.68,"y":0.24,"s":"g","g":2},{"x":935.92,"y":0.14,"s":"g","g":2},{"x":936.16,"y":0.19,"s":"g","g":2},
{"x":938.3,"y":0.09,"s":"g","g":3},{"x":938.54,"y":0.14,"s":"g","g":3},{"x":938.78,"y":0.28,"s":"g","g":3},{"x":939.01,"y":0.24,"s":"g","g":3},{"x":939.25,"y":0.33,"s":"g","g":3},{"x":939.49,"y":0.19,"s":"g","g":3},{"x":939.73,"y":0.28,"s":"g","g":3},{"x":939.97,"y":0.43,"s":"g","g":3},{"x":940.2,"y":0.24,"s":"g","g":3},{"x":940.44,"y":0.14,"s":"g","g":3},{"x":940.68,"y":0.38,"s":"g","g":3},{"x":940.92,"y":0.48,"s":"g","g":3},{"x":941.15,"y":0.33,"s":"g","g":3},{"x":941.39,"y":0.53,"s":"g","g":3},{"x":941.63,"y":0.63,"s":"g","g":3},{"x":941.87,"y":0.45,"s":"g","g":3},{"x":942.11,"y":0.58,"s":"g","g":3},{"x":942.2,"y":0.48,"s":"g","g":3},
{"x":929.14,"y":0.09,"s":"k","g":1},{"x":929.38,"y":0.04,"s":"k","g":1},{"x":929.62,"y":0.14,"s":"k","g":1},{"x":929.85,"y":-0.01,"s":"k","g":1},{"x":930.09,"y":0.19,"s":"k","g":1},{"x":930.33,"y":0.04,"s":"k","g":1},{"x":930.57,"y":0.09,"s":"k","g":1},{"x":930.81,"y":0.23,"s":"k","g":1},{"x":931.04,"y":0.33,"s":"k","g":1},{"x":931.16,"y":0.38,"s":"k","g":1},{"x":931.3,"y":0.24,"s":"k","g":1},
{"x":936.04,"y":0.19,"s":"k","g":2},{"x":936.28,"y":0.04,"s":"k","g":2},{"x":936.52,"y":0.14,"s":"k","g":2},{"x":936.75,"y":0.02,"s":"k","g":2},{"x":936.99,"y":0.12,"s":"k","g":2},{"x":937.23,"y":0.19,"s":"k","g":2},{"x":937.47,"y":0.06,"s":"k","g":2},{"x":937.71,"y":0.28,"s":"k","g":2},{"x":937.94,"y":0.09,"s":"k","g":2},{"x":938.18,"y":0.19,"s":"k","g":2},{"x":938.35,"y":0.14,"s":"k","g":2},
{"x":925.0,"y":0.93,"s":"r"},{"x":925.93,"y":1.0,"s":"r"},{"x":926.52,"y":1.02,"s":"r"},{"x":926.76,"y":0.83,"s":"r"},{"x":927.0,"y":0.53,"s":"r"},{"x":927.24,"y":0.78,"s":"r"},{"x":927.47,"y":0.97,"s":"r"},{"x":927.83,"y":0.94,"s":"r"},{"x":928.19,"y":0.9,"s":"r"},{"x":928.55,"y":0.73,"s":"r"},{"x":928.9,"y":0.45,"s":"r"},{"x":929.26,"y":0.2,"s":"r"},{"x":929.62,"y":0.09,"s":"r"},{"x":929.97,"y":0.02,"s":"r"},{"x":930.45,"y":-0.01,"s":"r"},{"x":930.92,"y":0.02,"s":"r"},{"x":931.28,"y":0.12,"s":"r"},{"x":931.76,"y":0.33,"s":"r"},{"x":932.35,"y":0.63,"s":"r"},{"x":933.07,"y":0.87,"s":"r"},{"x":933.54,"y":1.02,"s":"r"},{"x":933.78,"y":1.27,"s":"r"},{"x":934.14,"y":1.34,"s":"r"},{"x":934.49,"y":1.27,"s":"r"},{"x":934.97,"y":1.02,"s":"r"},{"x":935.33,"y":0.73,"s":"r"},{"x":935.56,"y":0.38,"s":"r"},{"x":935.8,"y":0.15,"s":"r"},{"x":936.16,"y":0.06,"s":"r"},{"x":936.63,"y":-0.01,"s":"r"},{"x":937.35,"y":-0.01,"s":"r"},{"x":938.06,"y":0.02,"s":"r"},{"x":938.42,"y":0.18,"s":"r"},{"x":938.78,"y":0.48,"s":"r"},{"x":939.13,"y":0.73,"s":"r"},{"x":939.49,"y":0.87,"s":"r"},{"x":940.08,"y":0.92,"s":"r"},{"x":940.92,"y":0.9,"s":"r"},{"x":941.63,"y":0.85,"s":"r"},{"x":942.2,"y":0.81,"s":"r"},
{"x":925.0,"y":0.17,"s":"e"},{"x":930.0,"y":0.16,"s":"e"},{"x":935.0,"y":0.17,"s":"e"},{"x":942.2,"y":0.17,"s":"e"}
 ],
 "mk": [
{"p":"ml","x":1020.0,"lx":1020.0,"t":"SiII","c":"g"},
{"p":"ml","x":1024.4,"lx":1024.1,"t":"Lyβ","c":"b"},
{"p":"ml","x":1025.4,"lx":1025.75,"t":"OI","c":"k"},
{"p":"ml","x":1030.1,"lx":1030.1,"t":"OVI","c":"k"},
{"p":"ml","x":1035.0,"lx":1034.5,"t":"CII","c":"k"},
{"p":"ml","x":1036.1,"lx":1036.2,"t":"OVI","c":"k"},
{"p":"ml","x":1037.9,"lx":1037.9,"t":"OI","c":"k"},
{"p":"mr","x":971.45,"lx":971.5,"t":"OI","c":"k"},
{"p":"mr","x":972.26,"lx":972.33,"t":"Lyγ","c":"b"},
{"p":"mr","x":975.79,"lx":975.75,"t":"OI","c":"g"},
{"p":"mr","x":976.47,"lx":976.52,"t":"CIII","c":"g"},
{"p":"bl","x":948.69,"lx":948.58,"t":"OI","c":"k"},
{"p":"bl","x":949.2,"lx":949.2,"t":"Lyδ","c":"b"},
{"p":"bl","x":949.72,"lx":949.85,"t":"OI","c":"k"},
{"p":"br","x":929.57,"lx":929.5,"t":"OI","c":"k"},
{"p":"br","x":930.57,"lx":930.69,"t":"Ly6","c":"b"},
{"p":"br","x":936.59,"lx":936.4,"t":"OI","c":"k"},
{"p":"br","x":937.59,"lx":937.7,"t":"Ly5","c":"b"}
 ]
},
"spacing": 2,
"vconcat": [
 {"width": 531, "height": 71, "data": {"name": "top"},
  "resolve": {"axis": {"x": "independent", "y": "independent"}},
  "layer": [
   {"transform": [{"filter": "datum.s === 'g'"}], "mark": {"type": "line", "color": "#808080", "strokeWidth": 1.6, "clip": true},
    "encoding": {"x": {"field": "x", "type": "quantitative", "title": null, "scale": {"domain": [925, 1800], "nice": false, "zero": false},
       "axis": {"orient": "bottom", "values": [950,1000,1050,1100,1150,1200,1250,1300,1350,1400,1450,1500,1550,1600,1650,1700,1750,1800], "tickSize": {"condition": {"test": "datum.value % 200 === 0", "value": -4}, "value": -2}, "labelExpr": "datum.value % 200 === 0 ? format(datum.value, 'd') : ''"}},
     "y": {"field": "y", "type": "quantitative", "title": null, "scale": {"domain": [-0.1, 2.0], "nice": false, "zero": false},
       "axis": {"orient": "left", "values": [0,0.1,0.2,0.3,0.4,0.5,0.6,0.7,0.8,0.9,1,1.1,1.2,1.3,1.4,1.5,1.6,1.7,1.8,1.9,2], "tickSize": {"condition": {"test": "abs(datum.value*2 - round(datum.value*2)) < 0.001", "value": -4}, "value": -2}, "labelExpr": "abs(datum.value*2 - round(datum.value*2)) < 0.001 ? format(datum.value, '.1f') : ''"}}}},
   {"transform": [{"filter": "datum.s === 'k'"}], "mark": {"type": "line", "color": "#000000", "strokeWidth": 1.8, "clip": true},
    "encoding": {"x": {"field": "x", "type": "quantitative", "title": null, "scale": {"domain": [925, 1800], "nice": false, "zero": false},
       "axis": {"orient": "top", "labels": false, "values": [950,1000,1050,1100,1150,1200,1250,1300,1350,1400,1450,1500,1550,1600,1650,1700,1750,1800], "tickSize": {"condition": {"test": "datum.value % 200 === 0", "value": -4}, "value": -2}}},
     "y": {"field": "y", "type": "quantitative", "title": null, "scale": {"domain": [-0.1, 2.0], "nice": false, "zero": false},
       "axis": {"orient": "right", "labels": false, "values": [0,0.1,0.2,0.3,0.4,0.5,0.6,0.7,0.8,0.9,1,1.1,1.2,1.3,1.4,1.5,1.6,1.7,1.8,1.9,2], "tickSize": {"condition": {"test": "abs(datum.value*2 - round(datum.value*2)) < 0.001", "value": -4}, "value": -2}}}}},
   {"transform": [{"filter": "datum.s === 'r'"}], "mark": {"type": "line", "color": "#ff0000", "strokeWidth": 1.6, "clip": true},
    "encoding": {"x": {"field": "x", "type": "quantitative", "scale": {"domain": [925, 1800], "nice": false, "zero": false}, "axis": null},
     "y": {"field": "y", "type": "quantitative", "scale": {"domain": [-0.1, 2.0], "nice": false, "zero": false}, "axis": null}}},
   {"transform": [{"filter": "datum.s === 'e'"}], "mark": {"type": "line", "color": "#00ee00", "strokeWidth": 1.3, "clip": true},
    "encoding": {"x": {"field": "x", "type": "quantitative", "scale": {"domain": [925, 1800], "nice": false, "zero": false}, "axis": null},
     "y": {"field": "y", "type": "quantitative", "scale": {"domain": [-0.1, 2.0], "nice": false, "zero": false}, "axis": null}}}
  ]},
 {"spacing": 6, "vconcat": [
 {"bounds": "flush", "spacing": 49, "hconcat": [
   {"width": 241, "height": 70, "data": {"name": "ml"},
    "resolve": {"axis": {"x": "independent", "y": "independent"}},
    "layer": [
     {"transform": [{"filter": "datum.s === 'g'"}], "mark": {"type": "line", "interpolate": "step", "color": "#808080", "strokeWidth": 2.4, "clip": true},
      "encoding": {"detail": {"field": "g"}, "x": {"field": "x", "type": "quantitative", "title": null, "scale": {"domain": [1017.2, 1041.2], "nice": false, "zero": false},
         "axis": {"orient": "bottom", "values": [1018,1019,1020,1021,1022,1023,1024,1025,1026,1027,1028,1029,1030,1031,1032,1033,1034,1035,1036,1037,1038,1039,1040,1041], "tickSize": {"condition": {"test": "datum.value % 5 === 0", "value": -4}, "value": -2}, "labelExpr": "datum.value % 5 === 0 ? format(datum.value, 'd') : ''"}},
       "y": {"field": "y", "type": "quantitative", "title": null, "scale": {"domain": [-0.1, 2.0], "nice": false, "zero": false},
         "axis": {"orient": "left", "values": [0,0.1,0.2,0.3,0.4,0.5,0.6,0.7,0.8,0.9,1,1.1,1.2,1.3,1.4,1.5,1.6,1.7,1.8,1.9,2], "tickSize": {"condition": {"test": "abs(datum.value*2 - round(datum.value*2)) < 0.001", "value": -4}, "value": -2}, "labelExpr": "abs(datum.value*2 - round(datum.value*2)) < 0.001 ? format(datum.value, '.1f') : ''"}}}},
     {"transform": [{"filter": "datum.s === 'k'"}], "mark": {"type": "line", "interpolate": "step", "color": "#000000", "strokeWidth": 2.8, "clip": true},
      "encoding": {"detail": {"field": "g"}, "x": {"field": "x", "type": "quantitative", "title": null, "scale": {"domain": [1017.2, 1041.2], "nice": false, "zero": false},
         "axis": {"orient": "top", "labels": false, "values": [1018,1019,1020,1021,1022,1023,1024,1025,1026,1027,1028,1029,1030,1031,1032,1033,1034,1035,1036,1037,1038,1039,1040,1041], "tickSize": {"condition": {"test": "datum.value % 5 === 0", "value": -4}, "value": -2}}},
       "y": {"field": "y", "type": "quantitative", "title": null, "scale": {"domain": [-0.1, 2.0], "nice": false, "zero": false},
         "axis": {"orient": "right", "labels": false, "values": [0,0.1,0.2,0.3,0.4,0.5,0.6,0.7,0.8,0.9,1,1.1,1.2,1.3,1.4,1.5,1.6,1.7,1.8,1.9,2], "tickSize": {"condition": {"test": "abs(datum.value*2 - round(datum.value*2)) < 0.001", "value": -4}, "value": -2}}}}},
     {"transform": [{"filter": "datum.s === 'r'"}], "mark": {"type": "line", "color": "#ff0000", "strokeWidth": 2, "clip": true},
      "encoding": {"x": {"field": "x", "type": "quantitative", "scale": {"domain": [1017.2, 1041.2], "nice": false, "zero": false}, "axis": null},
       "y": {"field": "y", "type": "quantitative", "scale": {"domain": [-0.1, 2.0], "nice": false, "zero": false}, "axis": null}}},
     {"transform": [{"filter": "datum.s === 'e'"}], "mark": {"type": "line", "color": "#00ee00", "strokeWidth": 1.5, "clip": true},
      "encoding": {"x": {"field": "x", "type": "quantitative", "scale": {"domain": [1017.2, 1041.2], "nice": false, "zero": false}, "axis": null},
       "y": {"field": "y", "type": "quantitative", "scale": {"domain": [-0.1, 2.0], "nice": false, "zero": false}, "axis": null}}},
     {"data": {"name": "mk"}, "transform": [{"filter": "datum.p === 'ml'"}], "mark": {"type": "rule", "color": "#222", "strokeWidth": 1},
      "encoding": {"x": {"field": "x", "type": "quantitative", "scale": {"domain": [1017.2, 1041.2], "nice": false, "zero": false}, "axis": null},
       "y": {"datum": 1.98, "type": "quantitative", "scale": {"domain": [-0.1, 2.0], "nice": false, "zero": false}, "axis": null}, "y2": {"datum": 1.72}}},
     {"data": {"name": "mk"}, "transform": [{"filter": "datum.p === 'ml'"}], "mark": {"type": "text", "font": "Liberation Mono", "fontWeight": "bold", "fontSize": 8.5, "baseline": "middle", "align": "center"},
      "encoding": {"x": {"field": "lx", "type": "quantitative", "scale": {"domain": [1017.2, 1041.2], "nice": false, "zero": false}, "axis": null},
       "y": {"datum": 1.52, "type": "quantitative", "scale": {"domain": [-0.1, 2.0], "nice": false, "zero": false}, "axis": null},
       "text": {"field": "t"}, "color": {"field": "c", "type": "nominal", "scale": {"domain": ["k","b","g"], "range": ["#222222","#3355ff","#999999"]}, "legend": null}}}
    ]},
   {"width": 241, "height": 70, "data": {"name": "mr"},
    "resolve": {"axis": {"x": "independent", "y": "independent"}},
    "layer": [
     {"transform": [{"filter": "datum.s === 'g'"}], "mark": {"type": "line", "interpolate": "step", "color": "#808080", "strokeWidth": 2.4, "clip": true},
      "encoding": {"x": {"field": "x", "type": "quantitative", "title": null, "scale": {"domain": [969, 980], "nice": false, "zero": false},
         "axis": {"orient": "bottom", "values": [969,969.5,970,970.5,971,971.5,972,972.5,973,973.5,974,974.5,975,975.5,976,976.5,977,977.5,978,978.5,979,979.5,980], "tickSize": {"condition": {"test": "datum.value % 2 === 0", "value": -4}, "value": -2}, "labelExpr": "datum.value % 2 === 0 ? format(datum.value, 'd') : ''"}},
       "y": {"field": "y", "type": "quantitative", "title": null, "scale": {"domain": [-0.1, 2.0], "nice": false, "zero": false},
         "axis": {"orient": "left", "values": [0,0.1,0.2,0.3,0.4,0.5,0.6,0.7,0.8,0.9,1,1.1,1.2,1.3,1.4,1.5,1.6,1.7,1.8,1.9,2], "tickSize": {"condition": {"test": "abs(datum.value*2 - round(datum.value*2)) < 0.001", "value": -4}, "value": -2}, "labelExpr": "abs(datum.value*2 - round(datum.value*2)) < 0.001 ? format(datum.value, '.1f') : ''"}}}},
     {"transform": [{"filter": "datum.s === 'k'"}], "mark": {"type": "line", "interpolate": "step", "color": "#000000", "strokeWidth": 2.8, "clip": true},
      "encoding": {"detail": {"field": "g"}, "x": {"field": "x", "type": "quantitative", "title": null, "scale": {"domain": [969, 980], "nice": false, "zero": false},
         "axis": {"orient": "top", "labels": false, "values": [969,969.5,970,970.5,971,971.5,972,972.5,973,973.5,974,974.5,975,975.5,976,976.5,977,977.5,978,978.5,979,979.5,980], "tickSize": {"condition": {"test": "datum.value % 2 === 0", "value": -4}, "value": -2}}},
       "y": {"field": "y", "type": "quantitative", "title": null, "scale": {"domain": [-0.1, 2.0], "nice": false, "zero": false},
         "axis": {"orient": "right", "labels": false, "values": [0,0.1,0.2,0.3,0.4,0.5,0.6,0.7,0.8,0.9,1,1.1,1.2,1.3,1.4,1.5,1.6,1.7,1.8,1.9,2], "tickSize": {"condition": {"test": "abs(datum.value*2 - round(datum.value*2)) < 0.001", "value": -4}, "value": -2}}}}},
     {"transform": [{"filter": "datum.s === 'r'"}], "mark": {"type": "line", "color": "#ff0000", "strokeWidth": 2, "clip": true},
      "encoding": {"x": {"field": "x", "type": "quantitative", "scale": {"domain": [969, 980], "nice": false, "zero": false}, "axis": null},
       "y": {"field": "y", "type": "quantitative", "scale": {"domain": [-0.1, 2.0], "nice": false, "zero": false}, "axis": null}}},
     {"transform": [{"filter": "datum.s === 'e'"}], "mark": {"type": "line", "color": "#00ee00", "strokeWidth": 1.5, "clip": true},
      "encoding": {"x": {"field": "x", "type": "quantitative", "scale": {"domain": [969, 980], "nice": false, "zero": false}, "axis": null},
       "y": {"field": "y", "type": "quantitative", "scale": {"domain": [-0.1, 2.0], "nice": false, "zero": false}, "axis": null}}},
     {"data": {"name": "mk"}, "transform": [{"filter": "datum.p === 'mr'"}], "mark": {"type": "rule", "color": "#222", "strokeWidth": 1},
      "encoding": {"x": {"field": "x", "type": "quantitative", "scale": {"domain": [969, 980], "nice": false, "zero": false}, "axis": null},
       "y": {"datum": 1.87, "type": "quantitative", "scale": {"domain": [-0.1, 2.0], "nice": false, "zero": false}, "axis": null}, "y2": {"datum": 1.67}}},
     {"data": {"name": "mk"}, "transform": [{"filter": "datum.p === 'mr'"}], "mark": {"type": "text", "font": "Liberation Mono", "fontWeight": "bold", "fontSize": 8.5, "baseline": "middle", "align": "center"},
      "encoding": {"x": {"field": "lx", "type": "quantitative", "scale": {"domain": [969, 980], "nice": false, "zero": false}, "axis": null},
       "y": {"datum": 1.4, "type": "quantitative", "scale": {"domain": [-0.1, 2.0], "nice": false, "zero": false}, "axis": null},
       "text": {"field": "t"}, "color": {"field": "c", "type": "nominal", "scale": {"domain": ["k","b","g"], "range": ["#222222","#3355ff","#999999"]}, "legend": null}}}
    ]}
 ]},
 {"bounds": "flush", "spacing": 49, "hconcat": [
   {"width": 241, "height": 71, "data": {"name": "bl"},
    "resolve": {"axis": {"x": "independent", "y": "independent"}},
    "layer": [
     {"transform": [{"filter": "datum.s === 'g'"}], "mark": {"type": "line", "interpolate": "step", "color": "#808080", "strokeWidth": 2.4, "clip": true},
      "encoding": {"detail": {"field": "g"}, "x": {"field": "x", "type": "quantitative", "scale": {"domain": [945, 955], "nice": false, "zero": false},
         "axis": {"orient": "bottom", "title": "Wavelength (Å)", "titleFont": "Liberation Sans", "titleFontSize": 13, "titleFontWeight": "normal", "titleColor": "#000", "titleX": 258, "titleY": 12, "titleBaseline": "top", "titleAlign": "center", "values": [945,945.5,946,946.5,947,947.5,948,948.5,949,949.5,950,950.5,951,951.5,952,952.5,953,953.5,954,954.5,955], "tickSize": {"condition": {"test": "datum.value % 2 === 0", "value": -4}, "value": -2}, "labelExpr": "datum.value % 2 === 0 ? format(datum.value, 'd') : ''"}},
       "y": {"field": "y", "type": "quantitative", "title": null, "scale": {"domain": [-0.1, 2.0], "nice": false, "zero": false},
         "axis": {"orient": "left", "values": [0,0.1,0.2,0.3,0.4,0.5,0.6,0.7,0.8,0.9,1,1.1,1.2,1.3,1.4,1.5,1.6,1.7,1.8,1.9,2], "tickSize": {"condition": {"test": "abs(datum.value*2 - round(datum.value*2)) < 0.001", "value": -4}, "value": -2}, "labelExpr": "abs(datum.value*2 - round(datum.value*2)) < 0.001 ? format(datum.value, '.1f') : ''"}}}},
     {"transform": [{"filter": "datum.s === 'k'"}], "mark": {"type": "line", "interpolate": "step", "color": "#000000", "strokeWidth": 2.8, "clip": true},
      "encoding": {"detail": {"field": "g"}, "x": {"field": "x", "type": "quantitative", "title": null, "scale": {"domain": [945, 955], "nice": false, "zero": false},
         "axis": {"orient": "top", "labels": false, "values": [945,945.5,946,946.5,947,947.5,948,948.5,949,949.5,950,950.5,951,951.5,952,952.5,953,953.5,954,954.5,955], "tickSize": {"condition": {"test": "datum.value % 2 === 0", "value": -4}, "value": -2}}},
       "y": {"field": "y", "type": "quantitative", "title": null, "scale": {"domain": [-0.1, 2.0], "nice": false, "zero": false},
         "axis": {"orient": "right", "labels": false, "values": [0,0.1,0.2,0.3,0.4,0.5,0.6,0.7,0.8,0.9,1,1.1,1.2,1.3,1.4,1.5,1.6,1.7,1.8,1.9,2], "tickSize": {"condition": {"test": "abs(datum.value*2 - round(datum.value*2)) < 0.001", "value": -4}, "value": -2}}}}},
     {"transform": [{"filter": "datum.s === 'r'"}], "mark": {"type": "line", "color": "#ff0000", "strokeWidth": 2, "clip": true},
      "encoding": {"x": {"field": "x", "type": "quantitative", "scale": {"domain": [945, 955], "nice": false, "zero": false}, "axis": null},
       "y": {"field": "y", "type": "quantitative", "scale": {"domain": [-0.1, 2.0], "nice": false, "zero": false}, "axis": null}}},
     {"transform": [{"filter": "datum.s === 'e'"}], "mark": {"type": "line", "color": "#00ee00", "strokeWidth": 1.5, "clip": true},
      "encoding": {"x": {"field": "x", "type": "quantitative", "scale": {"domain": [945, 955], "nice": false, "zero": false}, "axis": null},
       "y": {"field": "y", "type": "quantitative", "scale": {"domain": [-0.1, 2.0], "nice": false, "zero": false}, "axis": null}}},
     {"data": {"name": "mk"}, "transform": [{"filter": "datum.p === 'bl'"}], "mark": {"type": "rule", "color": "#222", "strokeWidth": 1},
      "encoding": {"x": {"field": "x", "type": "quantitative", "scale": {"domain": [945, 955], "nice": false, "zero": false}, "axis": null},
       "y": {"datum": 1.98, "type": "quantitative", "scale": {"domain": [-0.1, 2.0], "nice": false, "zero": false}, "axis": null}, "y2": {"datum": 1.69}}},
     {"data": {"name": "mk"}, "transform": [{"filter": "datum.p === 'bl'"}], "mark": {"type": "text", "font": "Liberation Mono", "fontWeight": "bold", "fontSize": 8.5, "baseline": "middle", "align": "center"},
      "encoding": {"x": {"field": "lx", "type": "quantitative", "scale": {"domain": [945, 955], "nice": false, "zero": false}, "axis": null},
       "y": {"datum": 1.47, "type": "quantitative", "scale": {"domain": [-0.1, 2.0], "nice": false, "zero": false}, "axis": null},
       "text": {"field": "t"}, "color": {"field": "c", "type": "nominal", "scale": {"domain": ["k","b","g"], "range": ["#222222","#3355ff","#999999"]}, "legend": null}}}
    ]},
   {"width": 241, "height": 71, "data": {"name": "br"},
    "resolve": {"axis": {"x": "independent", "y": "independent"}},
    "layer": [
     {"transform": [{"filter": "datum.s === 'g'"}], "mark": {"type": "line", "interpolate": "step", "color": "#808080", "strokeWidth": 2.4, "clip": true},
      "encoding": {"detail": {"field": "g"}, "x": {"field": "x", "type": "quantitative", "title": null, "scale": {"domain": [925, 942.2], "nice": false, "zero": false},
         "axis": {"orient": "bottom", "values": [925,926,927,928,929,930,931,932,933,934,935,936,937,938,939,940,941,942], "tickSize": {"condition": {"test": "datum.value % 5 === 0", "value": -4}, "value": -2}, "labelExpr": "datum.value % 5 === 0 ? format(datum.value, 'd') : ''"}},
       "y": {"field": "y", "type": "quantitative", "title": null, "scale": {"domain": [-0.1, 2.0], "nice": false, "zero": false},
         "axis": {"orient": "left", "values": [0,0.1,0.2,0.3,0.4,0.5,0.6,0.7,0.8,0.9,1,1.1,1.2,1.3,1.4,1.5,1.6,1.7,1.8,1.9,2], "tickSize": {"condition": {"test": "abs(datum.value*2 - round(datum.value*2)) < 0.001", "value": -4}, "value": -2}, "labelExpr": "abs(datum.value*2 - round(datum.value*2)) < 0.001 ? format(datum.value, '.1f') : ''"}}}},
     {"transform": [{"filter": "datum.s === 'k'"}], "mark": {"type": "line", "interpolate": "step", "color": "#000000", "strokeWidth": 2.8, "clip": true},
      "encoding": {"detail": {"field": "g"}, "x": {"field": "x", "type": "quantitative", "title": null, "scale": {"domain": [925, 942.2], "nice": false, "zero": false},
         "axis": {"orient": "top", "labels": false, "values": [925,926,927,928,929,930,931,932,933,934,935,936,937,938,939,940,941,942], "tickSize": {"condition": {"test": "datum.value % 5 === 0", "value": -4}, "value": -2}}},
       "y": {"field": "y", "type": "quantitative", "title": null, "scale": {"domain": [-0.1, 2.0], "nice": false, "zero": false},
         "axis": {"orient": "right", "labels": false, "values": [0,0.1,0.2,0.3,0.4,0.5,0.6,0.7,0.8,0.9,1,1.1,1.2,1.3,1.4,1.5,1.6,1.7,1.8,1.9,2], "tickSize": {"condition": {"test": "abs(datum.value*2 - round(datum.value*2)) < 0.001", "value": -4}, "value": -2}}}}},
     {"transform": [{"filter": "datum.s === 'r'"}], "mark": {"type": "line", "color": "#ff0000", "strokeWidth": 2, "clip": true},
      "encoding": {"x": {"field": "x", "type": "quantitative", "scale": {"domain": [925, 942.2], "nice": false, "zero": false}, "axis": null},
       "y": {"field": "y", "type": "quantitative", "scale": {"domain": [-0.1, 2.0], "nice": false, "zero": false}, "axis": null}}},
     {"transform": [{"filter": "datum.s === 'e'"}], "mark": {"type": "line", "color": "#00ee00", "strokeWidth": 1.5, "clip": true},
      "encoding": {"x": {"field": "x", "type": "quantitative", "scale": {"domain": [925, 942.2], "nice": false, "zero": false}, "axis": null},
       "y": {"field": "y", "type": "quantitative", "scale": {"domain": [-0.1, 2.0], "nice": false, "zero": false}, "axis": null}}},
     {"data": {"name": "mk"}, "transform": [{"filter": "datum.p === 'br'"}], "mark": {"type": "rule", "color": "#222", "strokeWidth": 1},
      "encoding": {"x": {"field": "x", "type": "quantitative", "scale": {"domain": [925, 942.2], "nice": false, "zero": false}, "axis": null},
       "y": {"datum": 1.98, "type": "quantitative", "scale": {"domain": [-0.1, 2.0], "nice": false, "zero": false}, "axis": null}, "y2": {"datum": 1.67}}},
     {"data": {"name": "mk"}, "transform": [{"filter": "datum.p === 'br'"}], "mark": {"type": "text", "font": "Liberation Mono", "fontWeight": "bold", "fontSize": 8.5, "baseline": "middle", "align": "center"},
      "encoding": {"x": {"field": "lx", "type": "quantitative", "scale": {"domain": [925, 942.2], "nice": false, "zero": false}, "axis": null},
       "y": {"datum": 1.47, "type": "quantitative", "scale": {"domain": [-0.1, 2.0], "nice": false, "zero": false}, "axis": null},
       "text": {"field": "t"}, "color": {"field": "c", "type": "nominal", "scale": {"domain": ["k","b","g"], "range": ["#222222","#3355ff","#999999"]}, "legend": null}}}
    ]}
 ]}
 ]}
]
}
